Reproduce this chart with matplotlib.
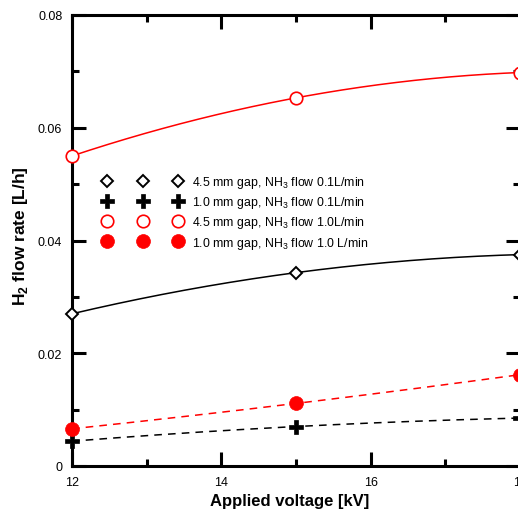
import numpy as np
import matplotlib
matplotlib.use("Agg")
import matplotlib.pyplot as plt
from matplotlib.ticker import MultipleLocator, FixedLocator, FixedFormatter

plt.rcParams['font.family'] = ['Liberation Sans', 'DejaVu Sans']
plt.rcParams['mathtext.fontset'] = 'custom'
plt.rcParams['mathtext.rm'] = 'Liberation Sans'
plt.rcParams['mathtext.bf'] = 'Liberation Sans:bold'

# Applied voltage [kV]
voltage = [12, 15, 18]

# H2 flow rate [L/h] for each gap / NH3 flow combination
gap45_nh3_01 = [0.0270, 0.0343, 0.0375]
gap10_nh3_01 = [0.0044, 0.0070, 0.0085]
gap45_nh3_10 = [0.0550, 0.0653, 0.0698]
gap10_nh3_10 = [0.0066, 0.0111, 0.0162]

labels = [
    "4.5 mm gap, NH$_3$ flow 0.1L/min",
    "1.0 mm gap, NH$_3$ flow 0.1L/min",
    "4.5 mm gap, NH$_3$ flow 1.0L/min",
    "1.0 mm gap, NH$_3$ flow 1.0 L/min",
]

xticks = [12, 14, 16, 18]
yticks = [0, 0.02, 0.04, 0.06, 0.08]
ytick_labels = ["0", "0.02", "0.04", "0.06", "0.08"]

fig = plt.figure(figsize=(5.18, 5.10), dpi=100)
ax = fig.add_axes([72 / 518, 43 / 510, 448 / 518, 451 / 510])

xs = np.linspace(12, 18, 200)


def smooth(y):
    coef = np.polyfit(voltage, y, 2)
    return np.polyval(coef, xs)


# fitted curves
ax.plot(xs, smooth(gap45_nh3_01), color='black', lw=1.1, clip_on=False)
ax.plot(xs, smooth(gap10_nh3_01), color='black', lw=1.1, ls=(0, (5, 4)), clip_on=False)
ax.plot(xs, smooth(gap45_nh3_10), color='red', lw=1.1, clip_on=False)
ax.plot(xs, smooth(gap10_nh3_10), color='red', lw=1.1, ls=(0, (5, 4)), clip_on=False)

# measured points
h1, = ax.plot(voltage, gap45_nh3_01, ls='none', marker='D', ms=6, mfc='white',
              mec='black', mew=1.4, clip_on=False, label=labels[0], zorder=4)
h2, = ax.plot(voltage, gap10_nh3_01, ls='none', marker='P', ms=9.5, mfc='black',
              mec='black', mew=0.5, clip_on=False, label=labels[1], zorder=4)
h3, = ax.plot(voltage, gap45_nh3_10, ls='none', marker='o', ms=9, mfc='white',
              mec='red', mew=1.2, clip_on=False, label=labels[2], zorder=4)
h4, = ax.plot(voltage, gap10_nh3_10, ls='none', marker='o', ms=10, mfc='red',
              mec='red', mew=0.5, clip_on=False, label=labels[3], zorder=4)

ax.set_xlim(12, 18)
ax.set_ylim(0, 0.08)
ax.xaxis.set_major_locator(FixedLocator(xticks))
ax.xaxis.set_minor_locator(MultipleLocator(1))
ax.yaxis.set_major_locator(FixedLocator(yticks))
ax.yaxis.set_major_formatter(FixedFormatter(ytick_labels))
ax.yaxis.set_minor_locator(MultipleLocator(0.01))

ax.tick_params(which='both', direction='in', top=True, right=True, width=2.2,
               labelsize=9, pad=7, colors='black')
ax.tick_params(which='major', length=10)
ax.tick_params(which='minor', length=5)
for s in ax.spines.values():
    s.set_linewidth(2.2)

ax.set_xlabel("Applied voltage [kV]", fontsize=12, fontweight='bold')
ax.set_ylabel("H$_\\mathbf{2}$ flow rate [L/h]", fontsize=12.5, fontweight='bold')
ax.xaxis.set_label_coords((289.5 - 72) / 448, (467 - 494) / 451)
ax.yaxis.set_label_coords((30.5 - 72) / 448, (467 - 236) / 451)

ax.legend(handles=[h1, h2, h3, h4], loc='upper left',
          bbox_to_anchor=(103.5 / 518, 1 - 175 / 510),
          bbox_transform=fig.transFigure, frameon=False, numpoints=3, fontsize=8.9,
          handlelength=6.34, handletextpad=0.83, labelspacing=0.34, borderpad=0,
          borderaxespad=0)

fig.savefig("out.png", dpi=100)
